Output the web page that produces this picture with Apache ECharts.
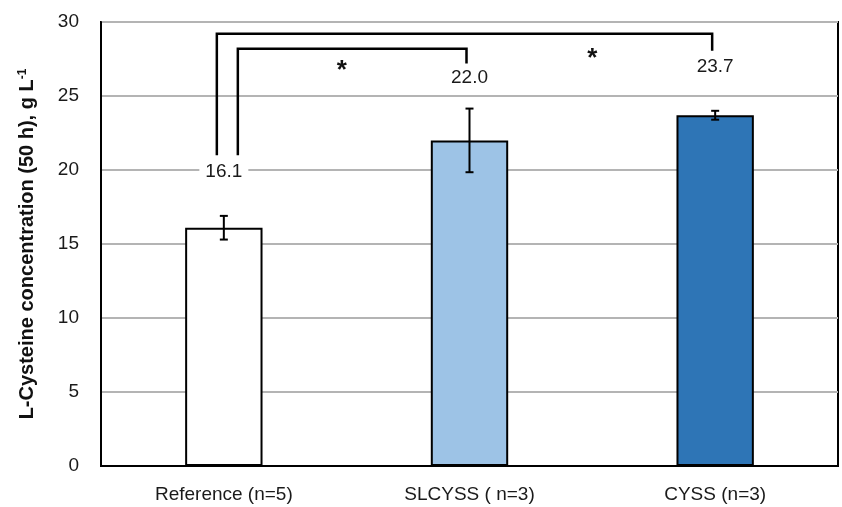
<!DOCTYPE html>
<html>
<head>
<meta charset="utf-8">
<script src="https://cdn.jsdelivr.net/npm/echarts@6/dist/echarts.min.js"></script>
<style>
  html, body { margin: 0; padding: 0; background: #fff; }
  #chart { width: 842px; height: 507px; }
</style>
</head>
<body>
<div id="chart"></div>
<script>
// Strains and L-cysteine titres after 50 h (g/L)
const categories = ['Reference (n=5)', 'SLCYSS ( n=3)', 'CYSS (n=3)'];
const means = [16.1, 22.0, 23.7];
const errors = [0.8, 2.15, 0.3];
const barColors = ['#ffffff', '#9dc3e6', '#2e75b6'];
// height (g/L) at which each value label sits
const labelLevels = [19.9, 26.2, 26.95];

// significance brackets: from bar, to bar, top level, end levels
const bracketFrom = [0, 0];
const bracketTo = [1, 2];
const bracketTop = [28.2, 29.2];
const bracketLeftEnd = [21.0, 21.0];
const bracketRightEnd = [27.2, 28.05];
const starPos = [0.48, 1.5];
const starLevel = [26.7, 27.5];

const FONT = '"Liberation Sans", Arial, sans-serif';

const chart = echarts.init(document.getElementById('chart'));

const errorData = means.map((m, i) => [i, m - errors[i], m + errors[i]]);
const labelData = means.map((m, i) => [i, labelLevels[i], m]);
const bracketData = bracketFrom.map((f, k) => [f, bracketTo[k], bracketTop[k], bracketLeftEnd[k], bracketRightEnd[k], k]);
const starData = starPos.map((p, k) => [p, starLevel[k]]);

// horizontal pixel offsets of bracket legs relative to bar centres
const legOffsetLeft = [14, -7];
const legOffsetRight = [-3, -3];

chart.setOption({
  animation: false,
  grid: { left: 101, right: 4, top: 22, bottom: 41, show: true, borderColor: '#000', borderWidth: 2, backgroundColor: 'transparent' },
  xAxis: {
    type: 'category',
    data: categories,
    axisLine: { lineStyle: { color: '#000', width: 2 } },
    axisTick: { show: false },
    axisLabel: { color: '#1a1a1a', fontFamily: FONT, fontSize: 19, margin: 19 }
  },
  yAxis: {
    type: 'value',
    min: 0, max: 30, interval: 5,
    axisLine: { show: true, lineStyle: { color: '#000', width: 2 } },
    axisTick: { show: false },
    splitLine: { lineStyle: { color: '#b4b4b4', width: 2 } },
    axisLabel: { color: '#1a1a1a', fontFamily: FONT, fontSize: 19, margin: 22 },
    name: 'L-Cysteine concentration (50 h), g L{sup|-1}',
    nameLocation: 'middle',
    nameRotate: 90,
    nameGap: 63,
    nameTextStyle: {
      color: '#111', fontFamily: FONT, fontSize: 20, fontWeight: 'bold',
      rich: { sup: { fontFamily: FONT, fontSize: 12, fontWeight: 'bold', color: '#111', verticalAlign: 'top', padding: [0, 0, 9, 0] } }
    }
  },
  series: [
    {
      type: 'bar',
      barWidth: '31.5%',
      data: means.map((v, i) => ({ value: v, itemStyle: { color: barColors[i] } })),
      itemStyle: { borderColor: '#000', borderWidth: 2 },
      z: 2
    },
    {
      type: 'custom',
      data: errorData,
      z: 4,
      renderItem: function (params, api) {
        const lo = api.coord([api.value(0), api.value(1)]);
        const hi = api.coord([api.value(0), api.value(2)]);
        const x = lo[0], cap = 4;
        const st = { stroke: '#000', lineWidth: 2 };
        return { type: 'group', children: [
          { type: 'line', shape: { x1: x, y1: lo[1], x2: x, y2: hi[1] }, style: st },
          { type: 'line', shape: { x1: x - cap, y1: lo[1], x2: x + cap, y2: lo[1] }, style: st },
          { type: 'line', shape: { x1: x - cap, y1: hi[1], x2: x + cap, y2: hi[1] }, style: st }
        ] };
      }
    },
    {
      type: 'custom',
      data: labelData,
      z: 5,
      renderItem: function (params, api) {
        const p = api.coord([api.value(0), api.value(1)]);
        return {
          type: 'text', x: p[0], y: p[1],
          style: {
            text: api.value(2).toFixed(1), fill: '#1a1a1a', font: '19px ' + FONT,
            align: 'center', verticalAlign: 'middle',
            backgroundColor: '#fff', padding: [3, 6]
          }
        };
      }
    },
    {
      type: 'custom',
      data: bracketData,
      z: 6,
      renderItem: function (params, api) {
        const k = api.value(5);
        const a = api.coord([api.value(0), api.value(2)]);
        const b = api.coord([api.value(1), api.value(2)]);
        const aEnd = api.coord([api.value(0), api.value(3)]);
        const bEnd = api.coord([api.value(1), api.value(4)]);
        const xa = a[0] + legOffsetLeft[k], xb = b[0] + legOffsetRight[k];
        return {
          type: 'polyline',
          shape: { points: [[xa, aEnd[1]], [xa, a[1]], [xb, a[1]], [xb, bEnd[1]]] },
          style: { stroke: '#000', lineWidth: 2.5, fill: null }
        };
      }
    },
    {
      type: 'custom',
      data: starData,
      z: 6,
      renderItem: function (params, api) {
        const base = api.coord([0, api.value(1)]);
        const band = api.size([1, 0])[0];
        const x = base[0] + api.value(0) * band;
        return {
          type: 'text', x: x, y: base[1],
          style: { text: '*', fill: '#111', font: 'bold 26px ' + FONT, align: 'center', verticalAlign: 'middle' }
        };
      }
    }
  ]
});
</script>
</body>
</html>
